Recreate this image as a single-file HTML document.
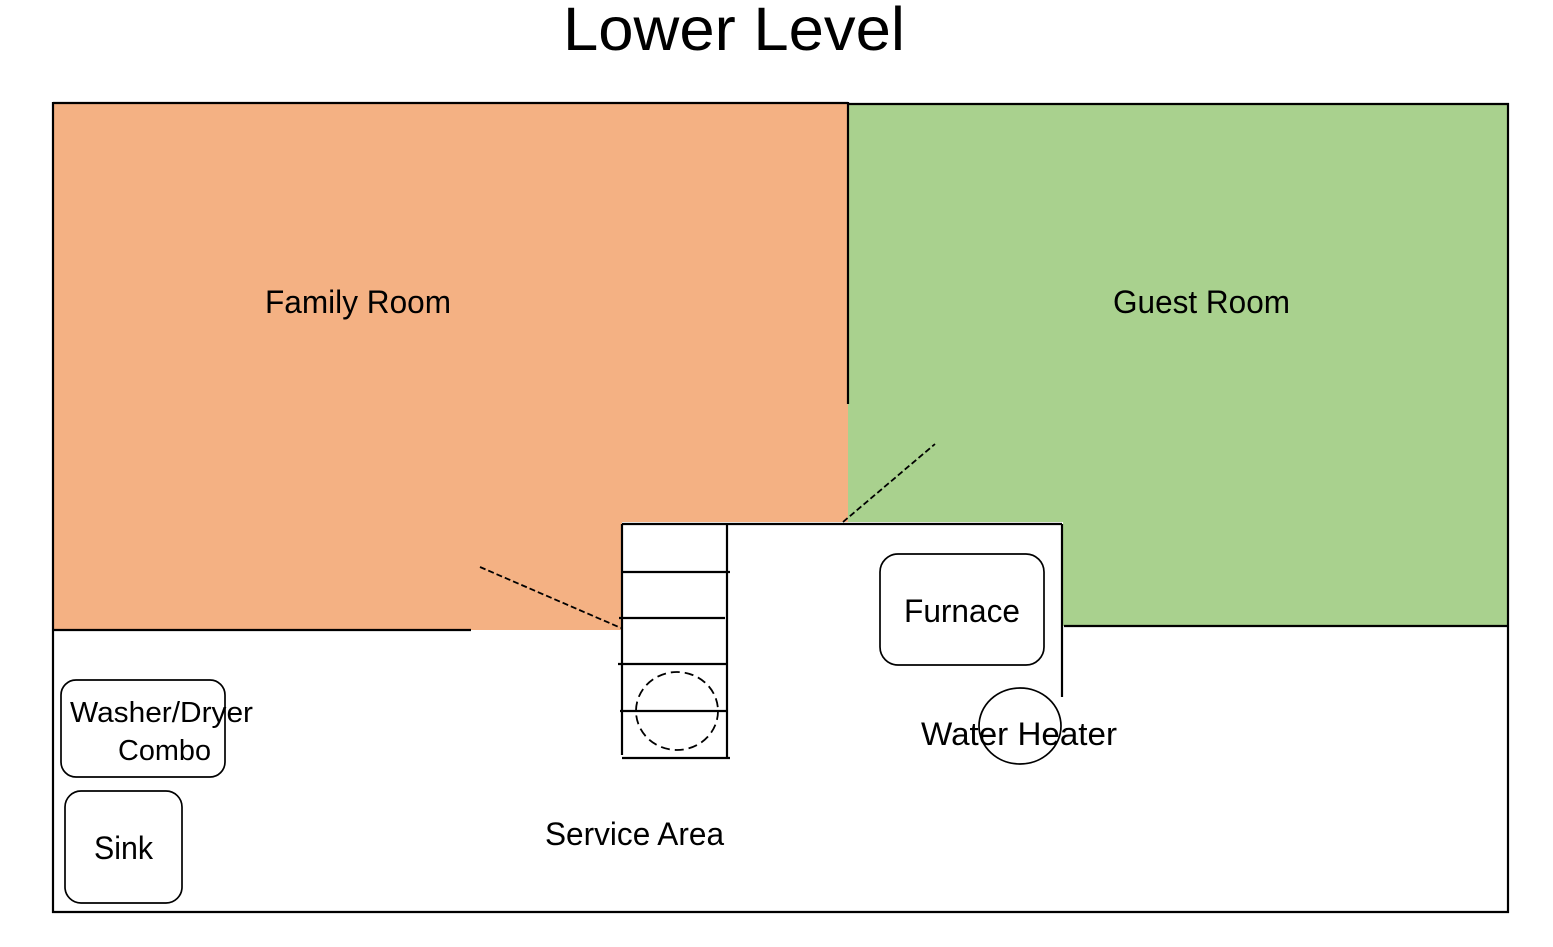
<!DOCTYPE html>
<html>
<head>
<meta charset="utf-8">
<style>
  html, body { margin: 0; padding: 0; background: #ffffff; }
  body { width: 1553px; height: 947px; overflow: hidden; }
  svg { display: block; }
  text { font-family: "Liberation Sans", sans-serif; fill: #000; }
</style>
</head>
<body>
<svg width="1553" height="947" viewBox="0 0 1553 947" xmlns="http://www.w3.org/2000/svg">
  <rect x="0" y="0" width="1553" height="947" fill="#ffffff"/>

  <!-- Title -->
  <text x="563" y="50" font-size="61" textLength="342" lengthAdjust="spacingAndGlyphs">Lower Level</text>

  <!-- Room fills -->
  <rect x="53" y="103" width="795" height="527" fill="#F4B183"/>
  <rect x="848" y="104" width="660" height="522" fill="#A9D18E"/>
  <!-- service area white cutout -->
  <rect x="622" y="522" width="441" height="110" fill="#ffffff"/>

  <!-- Outer walls -->
  <g stroke="#000" stroke-width="2.2" fill="none">
    <line x1="53" y1="103" x2="848" y2="103"/>
    <line x1="848" y1="104" x2="1509" y2="104"/>
    <line x1="53" y1="102" x2="53" y2="913"/>
    <line x1="1508" y1="103" x2="1508" y2="913"/>
    <line x1="52" y1="912" x2="1509" y2="912"/>

    <!-- interior walls -->
    <line x1="848" y1="102" x2="848" y2="404"/>
    <line x1="53" y1="630" x2="471" y2="630"/>
    <line x1="1064" y1="626" x2="1508" y2="626"/>
    <line x1="622" y1="524" x2="1062" y2="524"/>
    <line x1="1062" y1="524" x2="1062" y2="697"/>

    <!-- stairs -->
    <line x1="622" y1="524" x2="622" y2="755"/>
    <line x1="727" y1="524" x2="727" y2="757"/>
    <line x1="622" y1="572" x2="730" y2="572"/>
    <line x1="619" y1="618" x2="725" y2="618"/>
    <line x1="618" y1="664" x2="727" y2="664"/>
    <line x1="620" y1="711" x2="727" y2="711"/>
    <line x1="622" y1="758" x2="730" y2="758"/>
  </g>

  <!-- dashed door swings / circle -->
  <g stroke="#000" stroke-width="1.8" fill="none">
    <line x1="480" y1="567" x2="621" y2="628" stroke-dasharray="6,3"/>
    <line x1="843" y1="522" x2="935" y2="444" stroke-dasharray="6,3"/>
    <ellipse cx="677" cy="711" rx="41" ry="39" stroke-dasharray="9,5"/>
  </g>

  <!-- Appliances -->
  <g stroke="#000" stroke-width="1.7" fill="none">
    <rect x="880" y="554" width="164" height="111" rx="18" ry="18"/>
    <ellipse cx="1020" cy="726" rx="41" ry="38"/>
    <rect x="61" y="680" width="164" height="97" rx="15" ry="15"/>
    <rect x="65" y="791" width="117" height="112" rx="16" ry="16"/>
  </g>

  <!-- Labels -->
  <text x="265" y="313" font-size="32" textLength="186" lengthAdjust="spacingAndGlyphs">Family Room</text>
  <text x="1113" y="313" font-size="32" textLength="177" lengthAdjust="spacingAndGlyphs">Guest Room</text>
  <text x="904" y="622" font-size="32" textLength="116" lengthAdjust="spacingAndGlyphs">Furnace</text>
  <text x="921" y="745" font-size="32" textLength="196" lengthAdjust="spacingAndGlyphs">Water Heater</text>
  <text x="545" y="845" font-size="32" textLength="179" lengthAdjust="spacingAndGlyphs">Service Area</text>
  <text x="70" y="722" font-size="29" textLength="183" lengthAdjust="spacingAndGlyphs">Washer/Dryer</text>
  <text x="118" y="760" font-size="29" textLength="93" lengthAdjust="spacingAndGlyphs">Combo</text>
  <text x="94" y="859" font-size="32" textLength="59" lengthAdjust="spacingAndGlyphs">Sink</text>
</svg>
</body>
</html>
